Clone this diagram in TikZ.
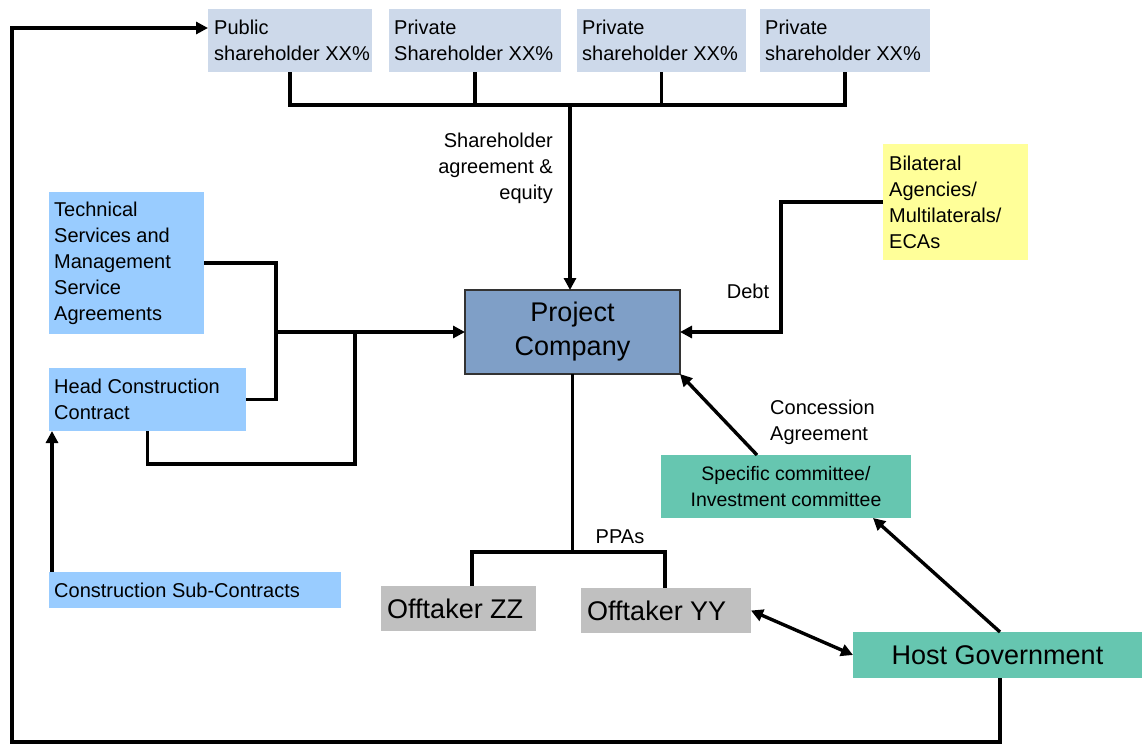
\documentclass[tikz,border=0pt]{standalone}
\usepackage{fontspec}
\setmainfont{Liberation Sans}
\usetikzlibrary{arrows.meta}
\definecolor{shcol}{RGB}{205,217,234}
\definecolor{techcol}{RGB}{153,204,255}
\definecolor{pccol}{RGB}{127,159,199}
\definecolor{yelcol}{RGB}{255,255,153}
\definecolor{tealcol}{RGB}{102,198,176}
\definecolor{graycol}{RGB}{192,192,192}
\tikzset{
  rect/.style={anchor=north west, inner sep=0pt, outer sep=0pt},
  txt/.style={anchor=west, inner sep=0pt, align=left, font=\fontsize{20}{26}\selectfont},
  box/.style={anchor=north west, inner sep=0pt, outer sep=0pt},
  conn/.style={line width=3.4pt, line join=miter},
  arr/.style={conn, -{Triangle[length=12pt,width=12pt]}},
  darr/.style={conn, {Triangle[length=12pt,width=12pt]}-{Triangle[length=12pt,width=12pt]}},
  lbl/.style={inner sep=0pt, font=\fontsize{20}{26}\selectfont},
  big/.style={font=\fontsize{27}{34}\selectfont}
}
\begin{document}
\begin{tikzpicture}[x=1pt,y=-1pt]
\useasboundingbox (0,0) rectangle (1143,745);
% shareholder boxes
\node[rect, fill=shcol, minimum width=164pt, minimum height=63pt] (sh1) at (208,9) {};
\node[txt] (sh1t) at ([xshift=6pt]sh1.west) {Public\\shareholder XX\%};
\node[rect, fill=shcol, minimum width=172pt, minimum height=63pt] (sh2) at (389,9) {};
\node[txt] (sh2t) at ([xshift=5pt]sh2.west) {Private\\Shareholder XX\%};
\node[rect, fill=shcol, minimum width=169pt, minimum height=63pt] (sh3) at (577,9) {};
\node[txt] (sh3t) at ([xshift=5pt]sh3.west) {Private\\shareholder XX\%};
\node[rect, fill=shcol, minimum width=170pt, minimum height=63pt] (sh4) at (760,9) {};
\node[txt] (sh4t) at ([xshift=5pt]sh4.west) {Private\\shareholder XX\%};
% left boxes
\node[rect, fill=techcol, minimum width=155pt, minimum height=142pt] (tech) at (49,192) {};
\node[txt] (techt) at ([xshift=5pt]tech.west) {Technical\\Services and\\Management\\Service\\Agreements};
\node[rect, fill=techcol, minimum width=197pt, minimum height=63pt] (head) at (49,368) {};
\node[txt] (headt) at ([xshift=5pt]head.west) {Head Construction\\Contract};
\node[rect, fill=techcol, minimum width=292pt, minimum height=36pt] (sub) at (49,572) {};
\node[txt] (subt) at ([xshift=5pt]sub.west) {Construction Sub-Contracts};
% project company
\node[box, big, fill=pccol, draw=black!80, line width=1.2pt, minimum width=215pt, minimum height=84pt, align=center] (pc) at (465,290) {Project\\Company};
% bilateral
\node[rect, fill=yelcol, minimum width=145pt, minimum height=116pt] (bil) at (883,144) {};
\node[txt] (bilt) at ([xshift=6pt]bil.west) {Bilateral\\Agencies/\\Multilaterals/\\ECAs};
% committee
\node[box, fill=tealcol, minimum width=250pt, minimum height=63pt, align=center, font=\fontsize{19.5}{26}\selectfont] (sc) at (661,455) {Specific committee/\\Investment committee};
% host government
\node[box, big, fill=tealcol, minimum width=289pt, minimum height=46pt] (hg) at (853,632) {Host Government};
% offtakers
\node[rect, fill=graycol, minimum width=155pt, minimum height=45pt] (ozz) at (381,586) {};
\node[txt, big] (ozzt) at ([xshift=6pt]ozz.west) {Offtaker ZZ};
\node[rect, fill=graycol, minimum width=170pt, minimum height=45pt] (oyy) at (581,588) {};
\node[txt, big] (oyyt) at ([xshift=6pt]oyy.west) {Offtaker YY};

% shareholder bus
\coordinate (bus) at (570,105);
\draw[conn] (sh1.south) -- (sh1.south |- bus) -- (sh4.south |- bus) -- (sh4.south);
\draw[conn] (sh2.south) -- (sh2.south |- bus);
\draw[conn] (sh3.south) -- (sh3.south |- bus);
\draw[arr] (bus) -- (bus |- pc.north);
\node[lbl, anchor=north east, align=right] (shlbl) at (553,133) {Shareholder\\agreement \&\\equity};

% left connectors
\coordinate (jx) at (276,332);
\coordinate (jy) at (355,464);
\draw[conn] (tech.east) -| (jx |- head.east) -- (head.east);
\draw[arr] (jx) -- (pc.west);
\draw[conn] (head.south) |- (jy) -- (jy |- pc.west);
\draw[arr] ([xshift=3pt]sub.north west) -- ([xshift=3pt]head.south west);

% loop from host government to public shareholder
\coordinate (lb) at (12,742);
\draw[arr] ([xshift=2.5pt]hg.south) |- (lb) |- ([yshift=12.5pt]sh1.west);

% debt
\coordinate (dj) at (781,332);
\draw[arr] (bil.west) -| (dj) -- (pc.east);
\node[lbl] (debt) at (748,291) {Debt};

% concession
\draw[arr] ([xshift=96pt]sc.north west) -- (pc.south east);
\node[lbl, anchor=north west, align=left] (conc) at (770,400) {Concession\\Agreement};
\draw[arr] ([xshift=147pt]hg.north west) -- ([xshift=212pt]sc.south west);

% PPAs
\coordinate (pp) at (570,552);
\draw[conn] (pc.south) -- (pc.south |- pp);
\draw[conn] ([xshift=13.5pt]ozz.north) |- (pp) -| ([xshift=-1pt]oyy.north);
\node[lbl] (ppas) at (620,537) {PPAs};

% offtaker - host government
\draw[darr] (oyy.east) -- (hg.west);
\end{tikzpicture}
\end{document}
